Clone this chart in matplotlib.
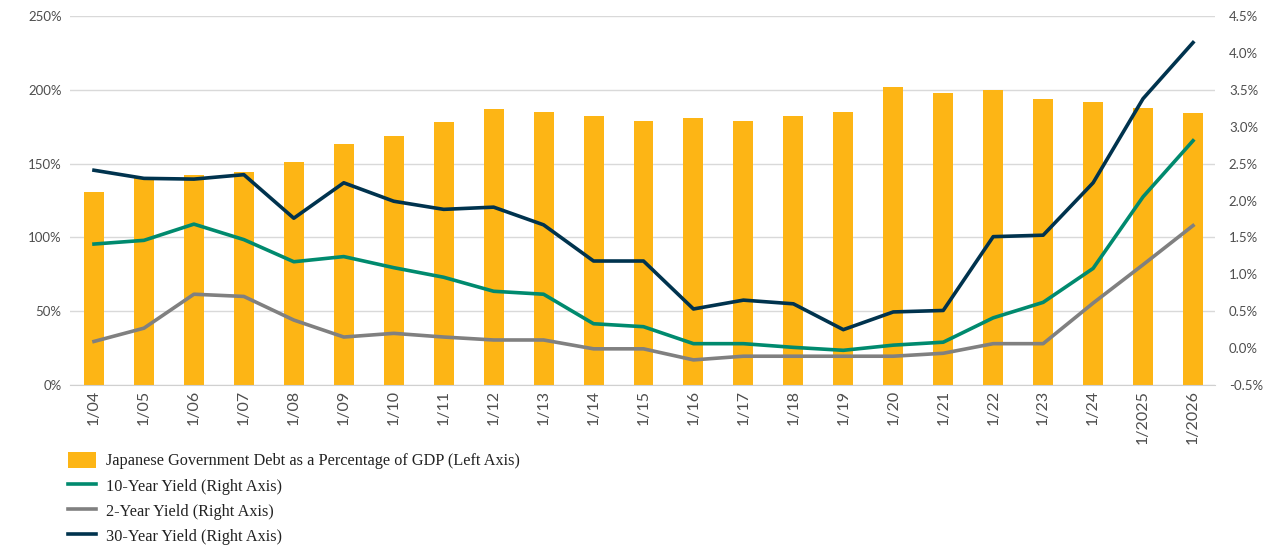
import numpy as np
import matplotlib.pyplot as plt
from matplotlib.ticker import FuncFormatter

# дані
labels = ['1/04', '1/05', '1/06', '1/07', '1/08', '1/09', '1/10', '1/11', '1/12',
          '1/13', '1/14', '1/15', '1/16', '1/17', '1/18', '1/19', '1/20', '1/21',
          '1/22', '1/23', '1/24', '1/2025', '1/2026']
debt = [131, 140, 142.5, 144.5, 151, 163, 169, 178, 187, 185, 182, 179, 181,
        179, 182, 185, 202, 198, 200, 194, 191.5, 188, 184]
y10 = [1.41, 1.46, 1.68, 1.47, 1.17, 1.24, 1.09, 0.96, 0.77, 0.73, 0.33, 0.29,
       0.06, 0.06, 0.01, -0.03, 0.04, 0.08, 0.41, 0.62, 1.08, 2.05, 2.81]
y2 = [0.09, 0.27, 0.73, 0.70, 0.38, 0.15, 0.20, 0.15, 0.11, 0.11, -0.01, -0.01,
      -0.16, -0.11, -0.11, -0.11, -0.11, -0.07, 0.06, 0.06, 0.61, 1.13, 1.66]
y30 = [2.41, 2.30, 2.29, 2.35, 1.76, 2.24, 1.99, 1.88, 1.91, 1.67, 1.18, 1.18,
       0.53, 0.65, 0.60, 0.25, 0.49, 0.51, 1.51, 1.53, 2.24, 3.38, 4.14]

gold = '#FDB515'
teal = '#008A6E'
grey = '#808080'
navy = '#00334E'
tick_col = '#4D4D4D'

fig = plt.figure(figsize=(12.81, 5.59), dpi=100)
ax = fig.add_axes([70/1281, 1-385/559, (1215-70)/1281, (385-16)/559])
x = np.arange(len(labels))

ax.bar(x, debt, width=0.4, color=gold, zorder=2,
       label='Japanese Government Debt as a Percentage of GDP (Left Axis)')
ax.set_ylim(0, 250)
ax.set_yticks(np.arange(0, 251, 50))
ax.yaxis.set_major_formatter(FuncFormatter(lambda v, p: f'{v:.0f}%'))
ax.grid(axis='y', color='#D9D9D9', linewidth=1, zorder=0)
ax.set_xlim(-0.48, 22.44)
ax.set_xticks(x)
ax.set_xticklabels(labels, rotation=90, fontsize=11.5, family='Lato', color=tick_col)
for s in ['top', 'right', 'left']:
    ax.spines[s].set_visible(False)
ax.spines['bottom'].set_color('#D0D0D0')
ax.tick_params(axis='both', length=0)
ax.tick_params(axis='y', labelsize=9.5, labelcolor=tick_col, pad=6)
for t in ax.get_yticklabels():
    t.set_family('Lato')

ax2 = ax.twinx()
ax2.plot(x, y10, color=teal, linewidth=2.6, label='10-Year Yield (Right Axis)')
ax2.plot(x, y2, color=grey, linewidth=2.6, label='2-Year Yield (Right Axis)')
ax2.plot(x, y30, color=navy, linewidth=2.6, label='30-Year Yield (Right Axis)')
ax2.set_ylim(-0.5, 4.5)
ax2.set_yticks(np.arange(-0.5, 4.51, 0.5))
ax2.yaxis.set_major_formatter(FuncFormatter(lambda v, p: f'{v:.1f}%'))
for s in ['top', 'right', 'left', 'bottom']:
    ax2.spines[s].set_visible(False)
ax2.tick_params(axis='y', length=0, labelsize=9.5, labelcolor=tick_col, pad=10)
for t in ax2.get_yticklabels():
    t.set_family('Lato')

h1, l1 = ax.get_legend_handles_labels()
h2, l2 = ax2.get_legend_handles_labels()
leg = fig.legend(h1 + h2, l1 + l2, loc='upper left',
                 bbox_to_anchor=(53/1281, 1-437/559), frameon=False,
                 prop={'family': 'Liberation Serif', 'size': 11.7},
                 handlelength=1.75, handleheight=1.2, labelspacing=0.45,
                 handletextpad=0.6)
for t in leg.get_texts():
    t.set_color('#222222')

fig.savefig('out.png', dpi=100)
